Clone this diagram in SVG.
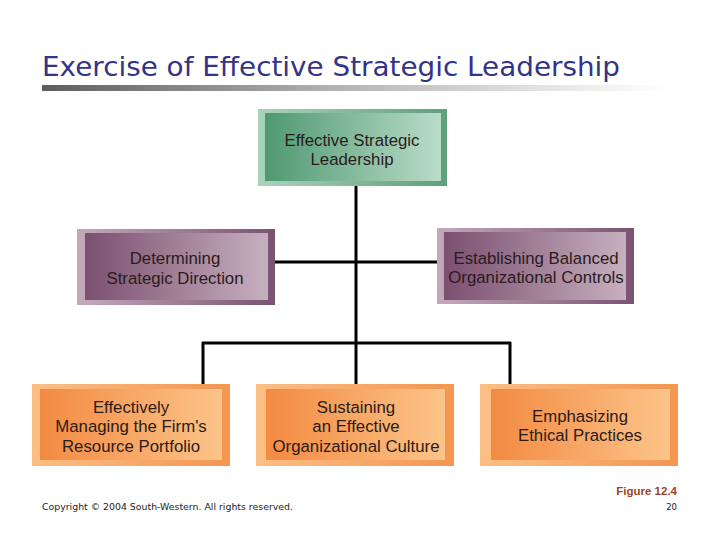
<svg xmlns="http://www.w3.org/2000/svg" width="720" height="540" viewBox="0 0 720 540">
<defs>
<linearGradient id="bar" x1="0" y1="0" x2="1" y2="0"><stop offset="0" stop-color="#5e5e5e"/><stop offset="0.5" stop-color="#b8b8b8"/><stop offset="1" stop-color="#ffffff"/></linearGradient>
<linearGradient id="gOut" x1="0" y1="0" x2="1" y2="0"><stop offset="0" stop-color="#a9d3bb"/><stop offset="1" stop-color="#5f9f7c"/></linearGradient>
<linearGradient id="gIn" x1="0" y1="0" x2="1" y2="0"><stop offset="0" stop-color="#4f9970"/><stop offset="1" stop-color="#b9dcc9"/></linearGradient>
<linearGradient id="pOut" x1="0" y1="0" x2="1" y2="0"><stop offset="0" stop-color="#c3aabb"/><stop offset="1" stop-color="#7a5373"/></linearGradient>
<linearGradient id="pIn" x1="0" y1="0" x2="1" y2="0"><stop offset="0" stop-color="#7b4f70"/><stop offset="1" stop-color="#c6b0bf"/></linearGradient>
<linearGradient id="oOut" x1="0" y1="0" x2="1" y2="0"><stop offset="0" stop-color="#fbbf85"/><stop offset="1" stop-color="#f39650"/></linearGradient>
<linearGradient id="oIn" x1="0" y1="0" x2="1" y2="0"><stop offset="0" stop-color="#f38a42"/><stop offset="1" stop-color="#fcc489"/></linearGradient>
</defs>
<style>
.t{font-family:"Liberation Sans",Arial,sans-serif;font-size:16.8px;fill:#2b1b1b;text-anchor:middle}
.c{stroke:#000;stroke-width:3;fill:none}
</style>
<rect width="720" height="540" fill="#fff"/>
<text x="42" y="76" font-family="'DejaVu Sans',Tahoma,sans-serif" font-size="27" fill="#333387" textLength="578" lengthAdjust="spacingAndGlyphs">Exercise of Effective Strategic Leadership</text>
<rect x="42" y="85" width="624" height="6" fill="url(#bar)"/>
<g id="connectors">
<line class="c" x1="356" y1="186" x2="356" y2="385"/>
<line class="c" x1="275" y1="262" x2="437" y2="262"/>
<line class="c" x1="202" y1="343" x2="511" y2="343"/>
<line class="c" x1="203" y1="342" x2="203" y2="385"/>
<line class="c" x1="510" y1="342" x2="510" y2="385"/>
</g>
<g id="n-top">
<rect x="258" y="109" width="189" height="77" fill="url(#gOut)"/>
<rect x="265" y="113" width="176" height="68" fill="url(#gIn)"/>
<text class="t" x="352" y="146">Effective Strategic</text>
<text class="t" x="352" y="165">Leadership</text>
</g>
<g id="n-direction">
<rect x="77" y="229" width="198" height="76" fill="url(#pOut)"/>
<rect x="85" y="233" width="183" height="67" fill="url(#pIn)"/>
<text class="t" x="175" y="264">Determining</text>
<text class="t" x="175" y="284">Strategic Direction</text>
</g>
<g id="n-controls">
<rect x="437" y="228" width="197" height="76" fill="url(#pOut)"/>
<rect x="444" y="232" width="182" height="68" fill="url(#pIn)"/>
<text class="t" x="536" y="264">Establishing Balanced</text>
<text class="t" x="536" y="283">Organizational Controls</text>
</g>
<g id="n-resource">
<rect x="32" y="384" width="198" height="82" fill="url(#oOut)"/>
<rect x="40" y="389" width="182" height="71" fill="url(#oIn)"/>
<text class="t" x="131" y="413">Effectively</text>
<text class="t" x="131" y="432">Managing the Firm's</text>
<text class="t" x="131" y="452">Resource Portfolio</text>
</g>
<g id="n-culture">
<rect x="256" y="384" width="198" height="82" fill="url(#oOut)"/>
<rect x="266" y="389" width="179" height="71" fill="url(#oIn)"/>
<text class="t" x="356" y="413">Sustaining</text>
<text class="t" x="356" y="432">an Effective</text>
<text class="t" x="356" y="452">Organizational Culture</text>
</g>
<g id="n-ethical">
<rect x="480" y="384" width="198" height="82" fill="url(#oOut)"/>
<rect x="491" y="389" width="179" height="71" fill="url(#oIn)"/>
<text class="t" x="580" y="422">Emphasizing</text>
<text class="t" x="580" y="441">Ethical Practices</text>
</g>
<text x="42" y="510" font-family="'DejaVu Sans',Tahoma,sans-serif" font-size="8.5" fill="#222" textLength="251" lengthAdjust="spacingAndGlyphs">Copyright © 2004 South-Western. All rights reserved.</text>
<text x="677" y="495" text-anchor="end" font-family="'Liberation Sans',Arial,sans-serif" font-size="11.5" font-weight="bold" fill="#a0421e">Figure 12.4</text>
<text x="677" y="510" text-anchor="end" font-family="'DejaVu Sans',Tahoma,sans-serif" font-size="8.5" fill="#222">20</text>
</svg>
